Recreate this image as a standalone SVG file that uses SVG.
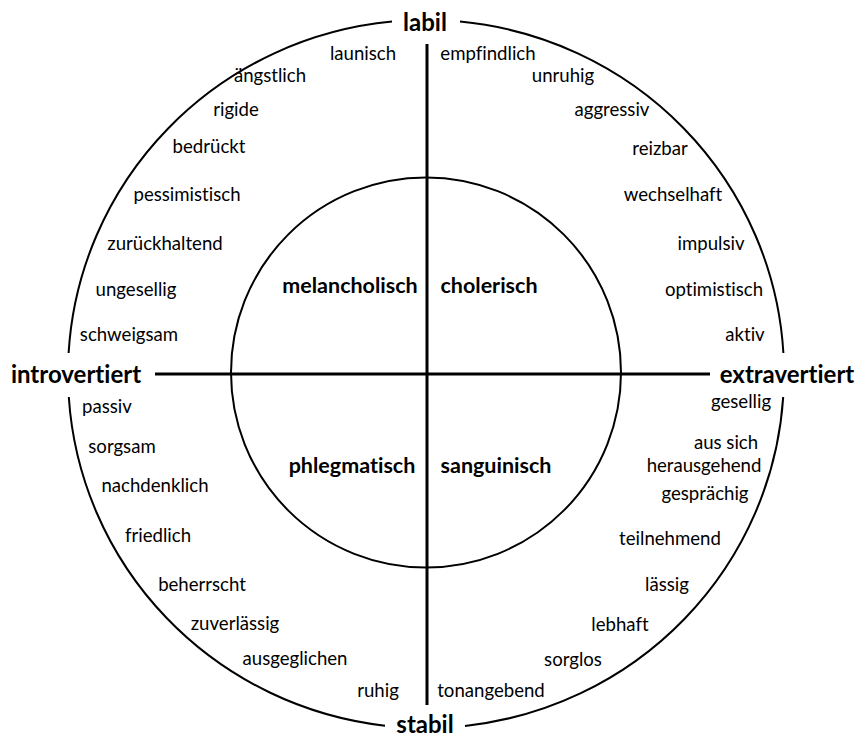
<svg xmlns="http://www.w3.org/2000/svg" width="856" height="737" viewBox="0 0 856 737">
<style>
.arc{fill:none;stroke:#000;stroke-width:2}
.axis{stroke:#000;stroke-width:3}
text{font-family:Lato,"Open Sans",sans-serif;fill:#000;text-anchor:middle;font-variant-ligatures:none;font-feature-settings:"liga" 0,"dlig" 0}
.t{font-size:18.6px}
.b{font-size:21.5px;font-weight:bold}
.a{font-size:24px;font-weight:bold}
</style>
<rect width="856" height="737" fill="#fff"/>
<g id="connectors">
<path class="arc" d="M460 21.6A358 354 0 0 1 783.4 353"/>
<path class="arc" d="M783.2 397A358 354 0 0 1 465 725.9"/>
<path class="arc" d="M385 725.7A358 354 0 0 1 68.8 397"/>
<path class="arc" d="M68.6 353A358 354 0 0 1 392 21.6"/>
<circle class="arc" cx="426" cy="372.5" r="195"/>
<line class="axis" x1="427" y1="44" x2="427" y2="705"/>
<line class="axis" x1="155" y1="374" x2="710" y2="374"/>
</g>
<g id="axis-labels">
<text class="a" x="425" y="31">labil</text>
<text class="a" x="425" y="733">stabil</text>
<text class="a" x="76" y="383">introvertiert</text>
<text class="a" x="787" y="383">extravertiert</text>
</g>
<g id="temperaments">
<text class="b" x="350" y="293">melancholisch</text>
<text class="b" x="489" y="293">cholerisch</text>
<text class="b" x="352" y="473">phlegmatisch</text>
<text class="b" x="496" y="473">sanguinisch</text>
</g>
<g id="traits-labil-introvertiert">
<text class="t" x="363" y="60">launisch</text>
<text class="t" x="270" y="82">ängstlich</text>
<text class="t" x="236" y="116">rigide</text>
<text class="t" x="209" y="153">bedrückt</text>
<text class="t" x="187" y="201">pessimistisch</text>
<text class="t" x="165" y="250">zurückhaltend</text>
<text class="t" x="136" y="296">ungesellig</text>
<text class="t" x="129" y="341">schweigsam</text>
</g>
<g id="traits-labil-extravertiert">
<text class="t" x="488" y="60">empfindlich</text>
<text class="t" x="563" y="82">unruhig</text>
<text class="t" x="612" y="116">aggressiv</text>
<text class="t" x="660" y="155">reizbar</text>
<text class="t" x="673" y="201">wechselhaft</text>
<text class="t" x="711" y="250">impulsiv</text>
<text class="t" x="714" y="296">optimistisch</text>
<text class="t" x="745" y="341">aktiv</text>
</g>
<g id="traits-stabil-introvertiert">
<text class="t" x="107" y="413">passiv</text>
<text class="t" x="122" y="453">sorgsam</text>
<text class="t" x="155" y="492">nachdenklich</text>
<text class="t" x="158" y="542">friedlich</text>
<text class="t" x="202" y="591">beherrscht</text>
<text class="t" x="235" y="630">zuverlässig</text>
<text class="t" x="295" y="665">ausgeglichen</text>
<text class="t" x="378" y="697">ruhig</text>
</g>
<g id="traits-stabil-extravertiert">
<text class="t" x="741" y="408">gesellig</text>
<text class="t" x="726" y="449">aus sich</text>
<text class="t" x="704" y="472">herausgehend</text>
<text class="t" x="705" y="500">gesprächig</text>
<text class="t" x="670" y="545">teilnehmend</text>
<text class="t" x="667" y="591">lässig</text>
<text class="t" x="620" y="631">lebhaft</text>
<text class="t" x="573" y="666">sorglos</text>
<text class="t" x="491" y="697">tonangebend</text>
</g>
</svg>
